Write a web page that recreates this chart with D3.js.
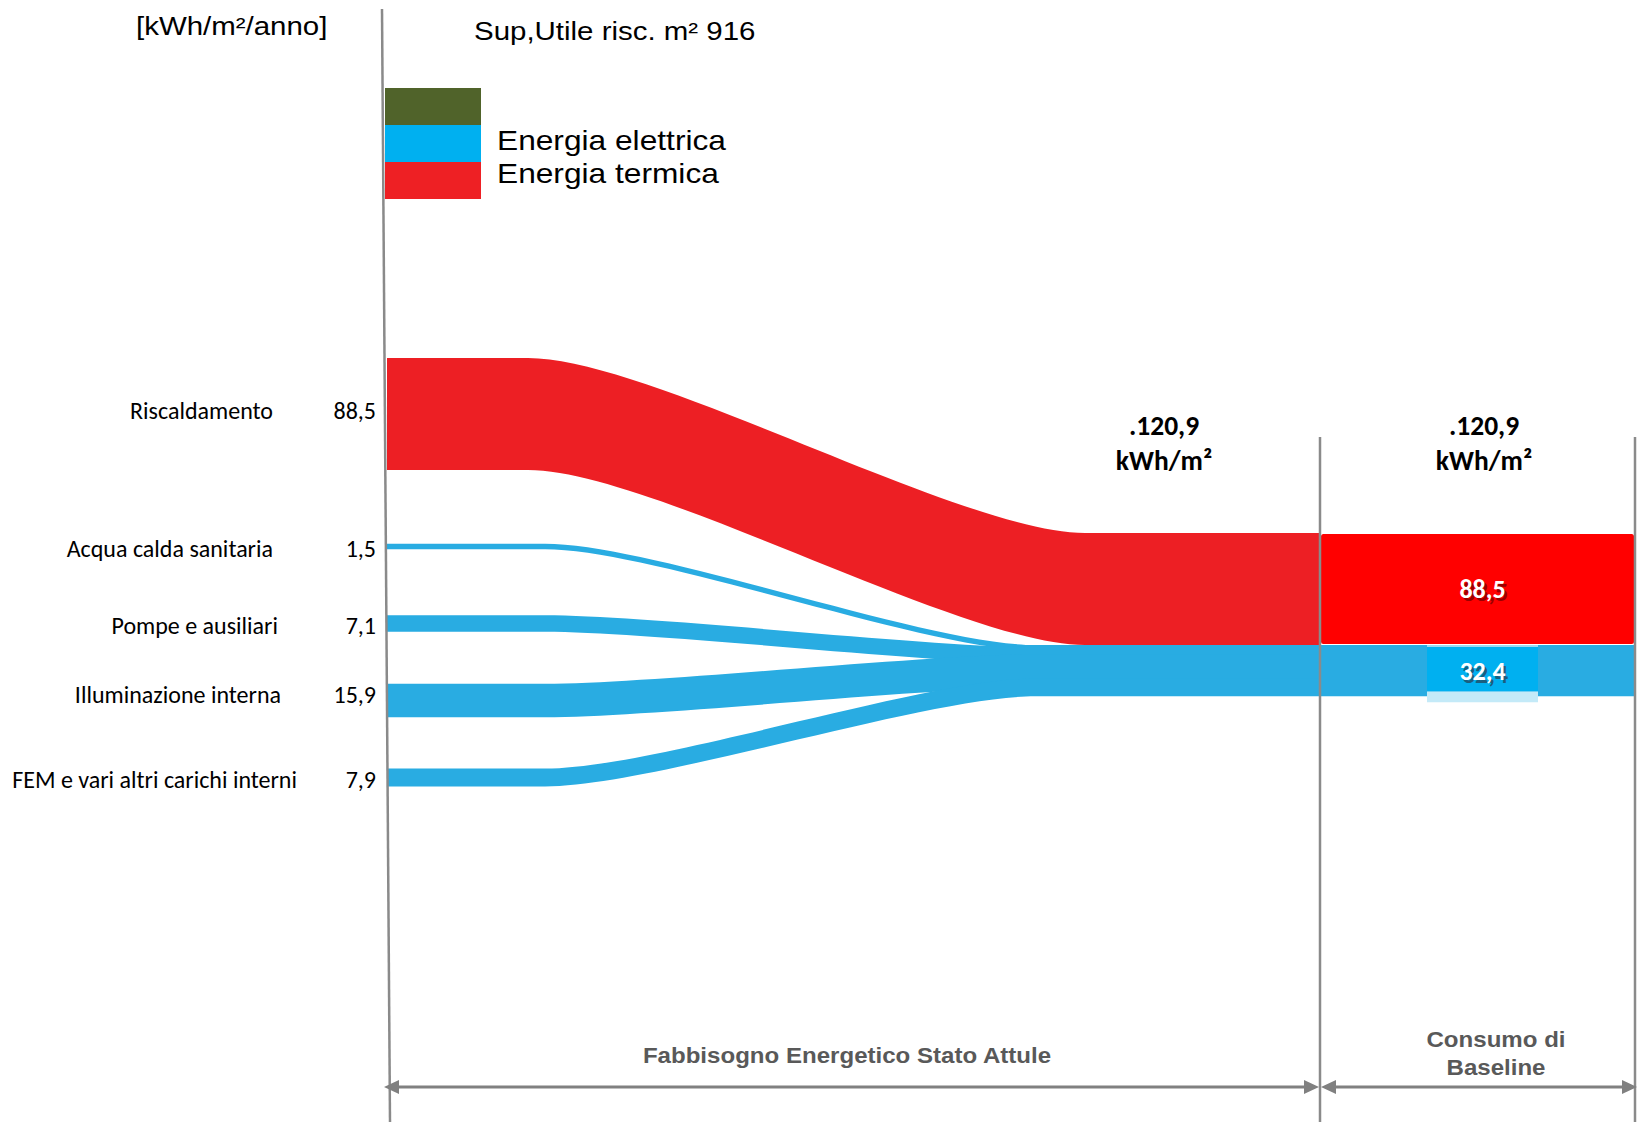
<!DOCTYPE html>
<html>
<head>
<meta charset="utf-8">
<script src="https://cdn.jsdelivr.net/npm/d3@7"></script>
<style>
  body { margin: 0; background: #ffffff; }
  svg { display: block; }
</style>
</head>
<body>
<svg id="chart" width="1642" height="1125"></svg>
<script>
// ---- data ----
const categories = ["Riscaldamento", "Acqua calda sanitaria", "Pompe e ausiliari", "Illuminazione interna", "FEM e vari altri carichi interni"];
const values = [88.5, 1.5, 7.1, 15.9, 7.9];
const carriers = ["termica", "elettrica", "elettrica", "elettrica", "elettrica"];
const baselineCarriers = ["termica", "elettrica"];
const baselineValues = [88.5, 32.4];
const legendKeys = ["altro", "elettrica", "termica"];
const legendLabels = ["", "Energia elettrica", "Energia termica"];
const surface = 916;
const unitLabel = "[kWh/m²/anno]";
const totalUnit = "kWh/m²";
const phaseLabels = [["Fabbisogno Energetico Stato Attule"], ["Consumo di", "Baseline"]];

// ---- styles ----
const flowColor = { termica: "#ED1F24", elettrica: "#29ACE2" };
const legendColor = { altro: "#50632A", elettrica: "#00B0F0", termica: "#EE2024" };
const boxColor = { termica: "#FF0000", elettrica: "#29ACE2" };
const lineColor = "#8A8A8A";
const sansNarrow = "'Liberation Sans', Arial, sans-serif";
const sansHuman = "Carlito, Lato, 'Open Sans', sans-serif";

const it = d3.formatLocale({ decimal: ",", thousands: ".", grouping: [3], currency: ["", " €"] });
const fmt = it.format(".1f");

const svg = d3.select("#chart");

// ---- layout ----
const xFlowStart = 387, xSplit = 1320, xEnd = 1635;
const thermalCenter = 414, groupGap = 132.5, rowStep = 77;
const targetTop = 533;

// band thickness from value
const thick = d3.scaleLinear().domain([0, 16, 88.5]).range([2.5, 33.5, 112]);

const total = d3.sum(values);
const elecTotal = d3.sum(values.filter((v, i) => carriers[i] === "elettrica"));
const elecTop = targetTop + thick(d3.sum(values.filter((v, i) => carriers[i] === "termica")));
const elecH = thick(elecTotal);

let elecBefore = 0;
const rows = categories.map((name, i) => {
  const v = values[i], h = thick(v);
  const cy = i === 0 ? thermalCenter : thermalCenter + groupGap + (i - 1) * rowStep;
  let yb;
  if (carriers[i] === "termica") {
    yb = targetTop;
  } else {
    const f = elecTotal - v > 0 ? elecBefore / (elecTotal - v) : 0;
    yb = elecTop + (elecH - h) * f;
    elecBefore += v;
  }
  return { name, v, carrier: carriers[i], h, ya: cy - h / 2, yb, cy };
});

// ribbon: flat start, S-bend, flat end
function ribbon(x0, xs, xt, x1, ya, yb, h, c) {
  const p = d3.path(), dx = xt - xs;
  p.moveTo(x0, ya);
  p.lineTo(xs, ya);
  p.bezierCurveTo(xs + c * dx, ya, xt - c * dx, yb, xt, yb);
  p.lineTo(x1, yb);
  p.lineTo(x1, yb + h);
  p.lineTo(xt, yb + h);
  p.bezierCurveTo(xt - c * dx, yb + h, xs + c * dx, ya + h, xs, ya + h);
  p.lineTo(x0, ya + h);
  p.closePath();
  return p.toString();
}

const bend = { termica: [528, 1085, 0.22], elettrica: [545, 1035, 0.22] };

// ---- flows ----
svg.append("g").selectAll("path")
  .data(rows)
  .join("path")
  .attr("d", d => {
    const [xs, xt, c] = bend[d.carrier];
    return ribbon(xFlowStart, xs, xt, xSplit - 1, d.ya, d.yb, d.h, c);
  })
  .attr("fill", d => flowColor[d.carrier]);

// ---- baseline column ----
const baseX = xSplit + 1, baseW = xEnd - 1 - baseX;
let acc = targetTop;
const baseRows = baselineValues.map((v, i) => {
  const h = thick(v);
  const r = { v, carrier: baselineCarriers[i], y: acc, h };
  acc += h;
  return r;
});
const baseG = svg.append("g");
baseG.selectAll("rect.box")
  .data(baseRows)
  .join("rect")
  .attr("class", "box")
  .attr("x", baseX)
  .attr("y", d => d.carrier === "termica" ? d.y + 1 : d.y)
  .attr("width", baseW)
  .attr("height", d => d.carrier === "termica" ? d.h - 2 : d.h)
  .attr("rx", d => d.carrier === "termica" ? 2.5 : 0)
  .attr("fill", d => boxColor[d.carrier]);

// label plate on the electric band
const elecRow = baseRows.find(d => d.carrier === "elettrica");
const plateCx = 1482.5, plateW = 111;
baseG.append("rect")
  .attr("x", plateCx - plateW / 2).attr("y", elecRow.y + elecRow.h - 5)
  .attr("width", plateW).attr("height", 11)
  .attr("fill", "#C4EAF8");
baseG.append("rect")
  .attr("x", plateCx - plateW / 2).attr("y", elecRow.y)
  .attr("width", plateW).attr("height", elecRow.h - 5)
  .attr("fill", "#00B0F0");
baseG.append("rect")
  .attr("x", plateCx - plateW / 2).attr("y", elecRow.y)
  .attr("width", plateW).attr("height", 2)
  .attr("fill", "#9ED8EE");

const shadowColor = { termica: "#9A0000", elettrica: "#1B5E7E" };
baseRows.forEach(d => {
  const cy = d.y + d.h / 2 + 9;
  baseG.append("text")
    .attr("x", plateCx + 2.5).attr("y", cy + 3)
    .attr("text-anchor", "middle")
    .attr("font-family", sansHuman).attr("font-weight", 700).attr("font-size", 26)
    .attr("fill", shadowColor[d.carrier])
    .text(fmt(d.v));
  baseG.append("text")
    .attr("x", plateCx).attr("y", cy)
    .attr("text-anchor", "middle")
    .attr("font-family", sansHuman).attr("font-weight", 700).attr("font-size", 26)
    .attr("fill", "#ffffff")
    .text(fmt(d.v));
});

// ---- guide lines ----
const lines = svg.append("g").attr("stroke", lineColor).attr("stroke-width", 2.5).attr("fill", "none");
lines.append("line").attr("x1", 382).attr("y1", 9).attr("x2", 390).attr("y2", 1122);
lines.append("line").attr("x1", xSplit).attr("y1", 437).attr("x2", xSplit).attr("y2", 1122);
lines.append("line").attr("x1", xEnd).attr("y1", 437).attr("x2", xEnd).attr("y2", 1122);

// dimension arrows
const arrowY = 1087, headL = 15, headW = 7;
const spans = [[384, xSplit - 1], [xSplit + 1, xEnd + 2]];
const arrows = svg.append("g");
spans.forEach(([a, b]) => {
  arrows.append("line").attr("x1", a + 4).attr("x2", b - 4).attr("y1", arrowY).attr("y2", arrowY)
    .attr("stroke", "#808080").attr("stroke-width", 3);
  arrows.append("path")
    .attr("d", `M${a},${arrowY} L${a + headL},${arrowY - headW} L${a + headL},${arrowY + headW} Z`)
    .attr("fill", "#808080");
  arrows.append("path")
    .attr("d", `M${b},${arrowY} L${b - headL},${arrowY - headW} L${b - headL},${arrowY + headW} Z`)
    .attr("fill", "#808080");
});

// ---- widened Arial-style text helper ----
function wideText(x, y, txt, size, opts = {}) {
  return svg.append("text")
    .attr("transform", `translate(${x},${y}) scale(1.12,1)`)
    .attr("text-anchor", opts.anchor || "start")
    .attr("font-family", sansNarrow)
    .attr("font-weight", opts.weight || 400)
    .attr("font-size", size)
    .attr("fill", opts.fill || "#000")
    .text(txt);
}

wideText(136, 35, unitLabel, 26.3);
wideText(474, 40, `Sup,Utile risc. m² ${surface}`, 26.3);

// ---- legend ----
const legY = d3.scaleBand().domain(legendKeys).range([88, 199]);
const legG = svg.append("g");
legG.selectAll("rect")
  .data(legendKeys)
  .join("rect")
  .attr("x", 385).attr("y", k => legY(k))
  .attr("width", 96).attr("height", legY.bandwidth())
  .attr("fill", k => legendColor[k]);
let legRow = 0;
legendKeys.forEach((k, i) => {
  if (legendLabels[i]) {
    wideText(497, 150 + legRow * 33, legendLabels[i], 28.3);
    legRow++;
  }
});

// ---- row labels ----
const labelRight = [273, 273, 278, 281, 297];
const labelNudge = [-4, 2, 2, -6, 2];
const labG = svg.append("g").attr("font-family", sansHuman).attr("font-size", 24).attr("fill", "#000");
rows.forEach((d, i) => {
  labG.append("text")
    .attr("x", labelRight[i]).attr("y", d.cy + labelNudge[i]).attr("dy", "0.36em")
    .attr("text-anchor", "end").text(d.name);
  labG.append("text")
    .attr("x", 376).attr("y", d.cy + labelNudge[i]).attr("dy", "0.36em")
    .attr("text-anchor", "end").text(fmt(d.v));
});

// ---- totals ----
const totG = svg.append("g").attr("font-family", sansHuman).attr("font-weight", 700)
  .attr("font-size", 27.5).attr("fill", "#000").attr("text-anchor", "middle");
[1164, 1484].forEach(cx => {
  totG.append("text").attr("x", cx).attr("y", 435).text("." + fmt(total));
  totG.append("text").attr("x", cx).attr("y", 470).text(totalUnit);
});

// ---- phase captions ----
const phaseX = [847, 1496];
const phaseY = [[1063], [1047, 1075]];
phaseLabels.forEach((linesTxt, i) => {
  linesTxt.forEach((t, j) => wideText(phaseX[i], phaseY[i][j], t, 21.5, { anchor: "middle", weight: 700, fill: "#595959" }));
});
</script>
</body>
</html>
